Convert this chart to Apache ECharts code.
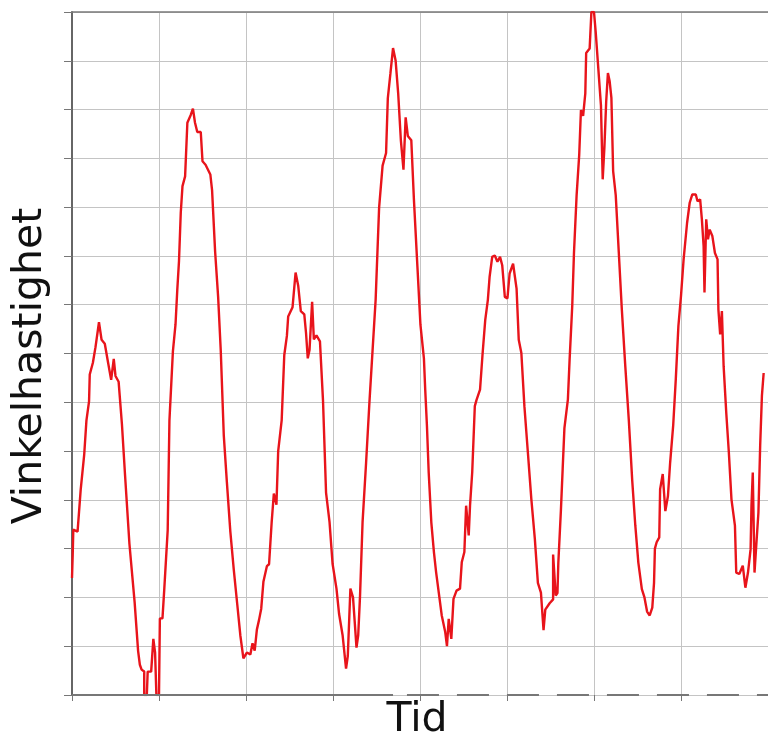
<!DOCTYPE html>
<html lang="no">
<head>
    <meta charset="UTF-8">
    <title>Vinkelhastighet</title>
    <script src="https://cdn.jsdelivr.net/npm/echarts@6/dist/echarts.min.js"></script>
    <style>
        html, body { margin: 0; padding: 0; background: #fff; }
        #main { width: 768px; height: 739px; }
    </style>
</head>
<body>
<div id="main"></div>
<script type="text/javascript">
    // tid (x) og vinkelhastighet (y), lest av fra bildet
    var timeValues = [
        0, 0.008, 0.015, 0.064, 0.10, 0.14, 0.166, 0.196, 0.204, 0.24, 0.27, 0.31, 0.34, 0.377, 0.415, 0.45, 0.48, 0.50, 0.536, 0.574,
        0.61, 0.66, 0.72, 0.76, 0.78, 0.80, 0.83, 0.83, 0.86, 0.87, 0.91, 0.935, 0.955, 0.97, 1.0, 1.01, 1.04, 1.06, 1.10,
        1.12, 1.16, 1.19, 1.21, 1.23, 1.25, 1.27, 1.30, 1.326, 1.365, 1.39, 1.414, 1.44, 1.48, 1.50, 1.535, 1.59, 1.61, 1.645, 1.68,
        1.71, 1.745, 1.78, 1.82, 1.86, 1.90, 1.935, 1.97, 2.01, 2.05, 2.075, 2.10, 2.125, 2.15, 2.175, 2.20, 2.24, 2.265, 2.295, 2.32,
        2.35, 2.37, 2.41, 2.44, 2.47, 2.485, 2.535, 2.57, 2.60, 2.63, 2.67, 2.69, 2.71, 2.73, 2.76, 2.78, 2.81, 2.85, 2.885, 2.92,
        2.96, 2.995, 3.04, 3.07, 3.11, 3.15, 3.17, 3.20, 3.23, 3.25, 3.27, 3.29, 3.31, 3.34, 3.38, 3.42, 3.455, 3.49, 3.53, 3.57,
        3.61, 3.63, 3.66, 3.69, 3.72, 3.75, 3.78, 3.81, 3.835, 3.86, 3.90, 3.93, 3.97, 4.005, 4.045, 4.06, 4.08, 4.10, 4.13, 4.16,
        4.185, 4.215, 4.25, 4.29, 4.31, 4.33, 4.36, 4.385, 4.42, 4.46, 4.48, 4.51, 4.53, 4.56, 4.575, 4.60, 4.63, 4.65, 4.69, 4.72,
        4.75, 4.78, 4.80, 4.83, 4.86, 4.89, 4.92, 4.945, 4.975, 5.005, 5.03, 5.07, 5.11, 5.135, 5.165, 5.20, 5.24, 5.28, 5.32, 5.355,
        5.39, 5.42, 5.44, 5.49, 5.53, 5.53, 5.56, 5.58, 5.59, 5.62, 5.64, 5.66, 5.70, 5.72, 5.75, 5.77, 5.80, 5.83, 5.85, 5.875,
        5.90, 5.91, 5.95, 5.97, 6.00, 6.02, 6.05, 6.08, 6.10, 6.12, 6.14, 6.16, 6.18, 6.20, 6.22, 6.25, 6.285, 6.32, 6.36, 6.40,
        6.44, 6.475, 6.51, 6.55, 6.58, 6.61, 6.64, 6.67, 6.69, 6.70, 6.72, 6.75, 6.76, 6.79, 6.82, 6.85, 6.875, 6.91, 6.94, 6.97,
        7.0, 7.03, 7.07, 7.10, 7.13, 7.17, 7.19, 7.22, 7.24, 7.26, 7.27, 7.29, 7.31, 7.33, 7.36, 7.39, 7.42, 7.43, 7.45, 7.47,
        7.49, 7.52, 7.55, 7.58, 7.62, 7.635, 7.67, 7.71, 7.74, 7.77, 7.80, 7.81, 7.825, 7.845, 7.865, 7.89, 7.91, 7.93, 7.95
    ];
    var speedValues = [
        2.40, 2.87, 3.39, 3.35, 4.21, 4.92, 5.63, 6.02, 6.57, 6.81, 7.13, 7.64, 7.28, 7.20, 6.81, 6.46, 6.89, 6.54, 6.42, 5.55,
        4.5, 3.1, 1.9, 0.9, 0.62, 0.52, 0.48, 0, 0, 0.48, 0.48, 1.15, 0.87, 0, 0, 1.57, 1.57, 2.15, 3.38,
        5.63, 7.05, 7.6, 8.3, 8.9, 9.88, 10.43, 10.63, 11.73, 11.89, 12.02, 11.73, 11.54, 11.54, 10.94, 10.87, 10.67, 10.35, 9.09, 8.15,
        7.05, 5.31, 4.37, 3.35, 2.56, 1.85, 1.22, 0.75, 0.87, 0.83, 1.06, 0.91, 1.34, 1.54, 1.77, 2.32, 2.64, 2.68, 3.54, 4.13,
        3.90, 5.0, 5.63, 6.97, 7.36, 7.76, 7.95, 8.66, 8.39, 7.87, 7.80, 7.42, 6.90, 7.07, 8.06, 7.29, 7.37, 7.25, 6.04, 4.15,
        3.55, 2.69, 2.18, 1.66, 1.23, 0.54, 0.80, 2.18, 2.0, 1.49, 0.97, 1.23, 2.0, 3.55, 4.75, 6.04, 7.07, 8.10, 9.99, 10.85,
        11.11, 12.23, 12.74, 13.26, 13.0, 12.31, 11.37, 10.77, 11.84, 11.46, 11.37, 10.16, 8.79, 7.59, 6.9, 6.26, 5.51, 4.56, 3.54, 2.93,
        2.52, 2.11, 1.63, 1.29, 1.0, 1.56, 1.15, 1.97, 2.14, 2.18, 2.72, 2.93, 3.88, 3.27, 3.88, 4.56, 5.92, 6.05, 6.26, 7.01,
        7.69, 8.10, 8.57, 8.98, 9.01, 8.88, 8.98, 8.81, 8.16, 8.13, 8.64, 8.84, 8.33, 7.28, 7.01, 5.92, 4.97, 4.01, 3.20, 2.3,
        2.1, 1.33, 1.75, 1.88, 1.96, 2.88, 2.04, 2.09, 2.71, 3.80, 4.64, 5.47, 6.06, 6.89, 7.98, 9.07, 10.24, 11.07, 11.99, 11.87,
        12.33, 13.16, 13.25, 14.0, 14.0, 13.58, 12.83, 12.08, 10.57, 11.24, 12.16, 12.75, 12.58, 12.24, 10.74, 10.24, 9.07, 7.90, 6.73, 5.64,
        4.38, 3.47, 2.71, 2.17, 2.0, 1.71, 1.63, 1.79, 2.3, 3.0, 3.13, 3.23, 4.22, 4.53, 3.77, 4.08, 4.76, 5.52, 6.47, 7.56,
        8.18, 8.93, 9.68, 10.09, 10.26, 10.26, 10.12, 10.16, 9.75, 9.20, 8.25, 9.75, 9.34, 9.54, 9.41, 9.06, 8.93, 7.90, 7.39, 7.87,
        6.74, 5.79, 4.97, 4.01, 3.47, 2.51, 2.48, 2.65, 2.20, 2.51, 2.99, 3.88, 4.56, 2.51, 3.06, 3.74, 5.11, 6.13, 6.6
    ];
    var yMin = 0, yMax = 14;
    var xMin = 0, xMax = 8;

    var points = [];
    for (var i = 0; i < timeValues.length; i++) {
        points.push([timeValues[i], speedValues[i]]);
    }

    var myChart = echarts.init(document.getElementById('main'));
    myChart.setOption({
        animation: false,
        backgroundColor: '#fff',
        grid: { left: 72, right: -6, top: 12, bottom: 44 },
        xAxis: [
            {
                type: 'value', min: xMin, max: xMax, interval: 1,
                axisLine: { show: false },
                axisTick: { show: true, length: 6, lineStyle: { color: '#777', width: 1 } },
                axisLabel: { show: false },
                splitLine: { show: true, lineStyle: { color: '#c4c4c4', width: 1 } }
            },
            {
                // bare for den øvre kantlinjen
                type: 'value', position: 'top', min: xMin, max: xMax,
                axisLine: { show: true, lineStyle: { color: '#7a7a7a', width: 1.5 } },
                axisTick: { show: false },
                axisLabel: { show: false },
                splitLine: { show: false }
            }
        ],
        yAxis: {
            type: 'value', min: yMin, max: yMax, interval: 1,
            axisLine: { show: true, lineStyle: { color: '#666', width: 2 } },
            axisTick: { show: true, length: 8, lineStyle: { color: '#777', width: 1 } },
            axisLabel: { show: false },
            splitLine: { show: true, lineStyle: { color: '#c4c4c4', width: 1 } }
        },
        graphic: [
            {
                type: 'text', x: 30, y: 366, rotation: Math.PI / 2,
                style: {
                    text: 'Vinkelhastighet', x: 0, y: 0,
                    font: '41px "DejaVu Sans"', fill: '#111',
                    textAlign: 'center', textVerticalAlign: 'middle',
                    align: 'center', verticalAlign: 'middle'
                }
            },
            {
                type: 'text', x: 417, y: 720,
                style: {
                    text: 'Tid', x: 0, y: 0,
                    font: '41px "DejaVu Sans"', fill: '#111',
                    textAlign: 'center', textVerticalAlign: 'middle',
                    align: 'center', verticalAlign: 'middle'
                }
            }
        ],
        series: [
            {
                name: 'Vinkelhastighet',
                type: 'line',
                xAxisIndex: 0,
                data: points,
                showSymbol: false,
                symbol: 'none',
                lineStyle: { color: '#e8141b', width: 2.4 },
                z: 3,
                markLine: {
                    silent: true,
                    symbol: 'none',
                    label: { show: false },
                    lineStyle: { color: '#777', width: 2 },
                    data: [
                        [
                            { coord: [0, 0], lineStyle: { type: 'solid', color: '#777', width: 2 } },
                            { coord: [3.69, 0], lineStyle: { type: 'solid', color: '#777', width: 2 } }
                        ],
                        [
                            { coord: [3.85, 0], lineStyle: { type: [32, 18], color: '#777', width: 2 } },
                            { coord: [8, 0], lineStyle: { type: [32, 18], color: '#777', width: 2 } }
                        ]
                    ]
                }
            }
        ]
    });
</script>
</body>
</html>
